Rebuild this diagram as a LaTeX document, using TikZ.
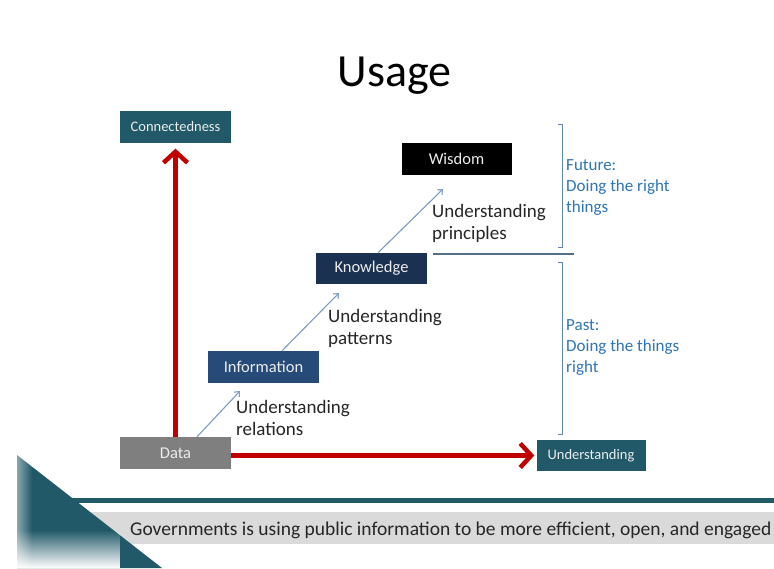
\documentclass[tikz,border=0pt]{standalone}
\usepackage{fontspec}
\setmainfont{Carlito}
\usetikzlibrary{arrows.meta,fadings,positioning}
\definecolor{tealbox}{HTML}{215968}
\definecolor{navyA}{HTML}{1B3152}
\definecolor{navyB}{HTML}{264B78}
\definecolor{grayD}{HTML}{7F7F7F}
\definecolor{redA}{HTML}{C00000}
\definecolor{bluearr}{HTML}{7C9CC4}
\definecolor{bluetxt}{HTML}{2E75B6}
\definecolor{brk}{HTML}{5F87B0}
\definecolor{divline}{HTML}{566F88}
\definecolor{bandgray}{HTML}{DADADA}
\definecolor{labeltxt}{HTML}{262626}
\definecolor{boxtxt}{HTML}{EDEDED}
\tikzset{
  box/.style={rectangle, inner sep=0pt, text=boxtxt, font=\fontsize{16.5}{18}\selectfont},
  smallbox/.style={box, font=\fontsize{14.5}{16}\selectfont},
  redarrow/.style={draw=redA, line width=4.7pt, -{Straight Barb[length=11pt,width=24pt,line width=4.5pt]}},
  bluearrow/.style={draw=bluearr, line width=1.1pt, -{Straight Barb[length=4pt,width=7pt]}},
  lbl/.style={anchor=north west, inner sep=0pt, align=left, text=labeltxt, font=\fontsize{19}{22}\selectfont},
  bluelbl/.style={anchor=north west, inner sep=0pt, align=left, text=bluetxt, font=\fontsize{17}{21}\selectfont},
  bracket/.style={draw=brk, line width=1pt},
}
\begin{document}
\begin{tikzpicture}[x=1pt,y=-1pt]
\useasboundingbox (0,0) rectangle (774,568);
\fill[white] (0,0) rectangle (774,568);

% footer band and line
\fill[bandgray] (60,512) rectangle (774,544);
\fill[tealbox] (60,498) rectangle (774,502.5);
% triangle
\fill[tealbox] (17,455) -- (162,568) -- (17,568) -- cycle;
\fill[white, path fading=east] (0,440) rectangle (32,568);
\fill[white, path fading=north] (0,530) rectangle (120,568);

\node[anchor=base west, inner sep=0pt, text=labeltxt, font=\fontsize{19.5}{22}\selectfont] (foot) at (130,535) {Governments is using public information to be more efficient, open, and engaged};

% title
\node[anchor=base, inner sep=0pt, text=black, font=\fontsize{46}{50}\selectfont] (title) at (394.5,86) {Usage};

% boxes
\node[smallbox, fill=tealbox, minimum width=111pt, minimum height=32pt] (conn) at (175.5,126.5) {Connectedness};
\node[box, fill=black, minimum width=110pt, minimum height=32pt] (wis) at (456.5,159) {Wisdom};
\node[box, fill=navyA, minimum width=111pt, minimum height=31pt] (know) at (371.5,268.5) {Knowledge};
\node[box, fill=navyB, minimum width=111pt, minimum height=32pt] (info) at (263.5,367) {Information};
\node[box, fill=grayD, minimum width=111pt, minimum height=32pt] (data) at (175.5,453) {Data};
\node[smallbox, fill=tealbox, minimum width=109pt, minimum height=31pt] (und) at (591,455.5) {Understanding};

% red arrows
\draw[redarrow, shorten >=6pt] (data.north) -- (conn.south);
\draw[redarrow, shorten >=2pt] (data.east |- und.west) -- (und.west);

% blue arrows
\coordinate (e1) at (240,391);
\coordinate (e2) at (339,293);
\coordinate (e3) at (443,189);
\draw[bluearrow] ([xshift=21.5pt]data.north) -- (e1);
\draw[bluearrow] ([xshift=18.5pt]info.north) -- (e2);
\draw[bluearrow] ([xshift=6.5pt]know.north) -- (e3);

% labels
\node[lbl] (lrel) at (236,400) {Understanding\\relations};
\node[lbl] (lpat) at (328,309) {Understanding\\patterns};
\node[lbl] (lpri) at (432,204) {Understanding\\principles};

% brackets and divider
\draw[bracket] (558,124) -- (562,124) -- (562,247) -- (558,247);
\draw[bracket] (558,262) -- (562,262) -- (562,434) -- (558,434);
\draw[draw=divline, line width=1.2pt] (433,254) -- (574,254);

\node[bluelbl] (fut) at (566,159) {Future:\\Doing the right\\things};
\node[bluelbl] (past) at (566,319) {Past:\\Doing the things\\right};
\end{tikzpicture}
\end{document}
